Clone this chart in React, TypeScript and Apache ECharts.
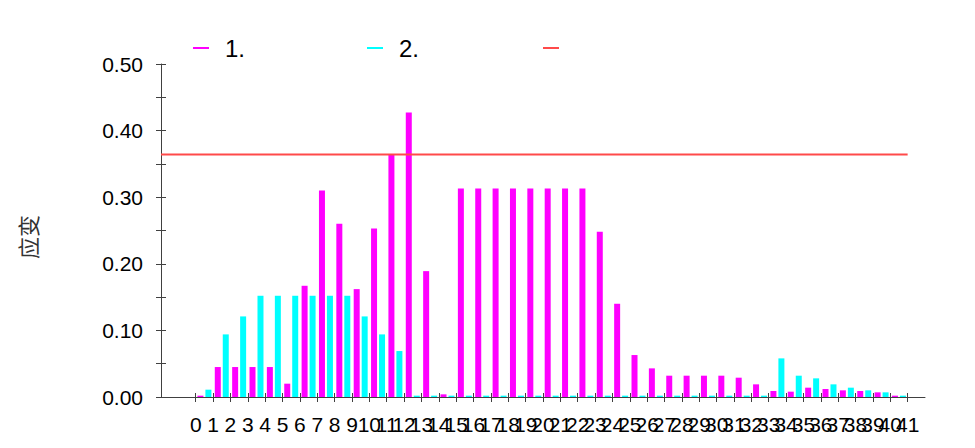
import React, { useEffect, useRef } from 'react';
import * as echarts from 'echarts';

// ---- data ----
const tickLabels = [
  '0', '1', '2', '3', '4', '5', '6', '7', '8', '9', '10', '11', '12', '13', '14', '15', '16', '17', '18', '19', '20',
  '21', '22', '23', '24', '25', '26', '27', '28', '29', '30', '31', '32', '33', '34', '35', '36', '37', '38', '39', '40', '41',
];

const seriesOneName = '1.';
const seriesTwoName = '2.';
const limitName = ' ';

const seriesOne = [
  0.002, 0.045, 0.045, 0.045, 0.045, 0.02, 0.167, 0.31, 0.26, 0.162, 0.253, 0.364, 0.427, 0.189, 0.004,
  0.313, 0.313, 0.313, 0.313, 0.313, 0.313, 0.313, 0.313, 0.248, 0.14, 0.063, 0.043, 0.032, 0.032, 0.032,
  0.032, 0.029, 0.019, 0.009, 0.008, 0.014, 0.012, 0.01, 0.009, 0.007, 0.002,
];

const seriesTwo = [
  0.011, 0.094, 0.121, 0.152, 0.152, 0.152, 0.152, 0.152, 0.152, 0.121, 0.094, 0.069, 0.002, 0.002, 0.002,
  0.002, 0.002, 0.002, 0.002, 0.002, 0.002, 0.002, 0.002, 0.002, 0.002, 0.002, 0.002, 0.002, 0.002, 0.002,
  0.002, 0.002, 0.002, 0.058, 0.032, 0.028, 0.019, 0.014, 0.01, 0.007, 0.002,
];

const limitValue = 0.364;

const yMin = 0;
const yMax = 0.5;
const yTickStep = 0.05;

const FONT = '"Liberation Sans", Arial, sans-serif';
const AXIS_COLOR = '#404040';

export default function App() {
  const ref = useRef<HTMLDivElement>(null);

  useEffect(() => {
    if (!ref.current) return;
    const chart = echarts.init(ref.current, null, { renderer: 'svg' });

    // band axis for bars: two empty bands on the left, one band per tick label
    const barAxisData = ['L2', 'L1', ...tickLabels];
    const barData1 = ['-', '-', ...seriesOne];
    const barData2 = ['-', '-', ...seriesTwo];

    // point axis for tick labels (ticks on band boundaries)
    const labelAxisData = ['L2', 'L1', ...tickLabels, 'R1'];
    const isLabel = (v: string) => tickLabels.indexOf(v) >= 0;
    const lineData = labelAxisData.map((v) => (v === 'R1' ? '-' : limitValue));

    const legendBase = {
      top: 31,
      itemWidth: 16,
      itemHeight: 2,
      icon: 'rect',
      selectedMode: false,
      textStyle: { fontSize: 24, color: '#000', fontFamily: FONT, padding: [0, 0, 0, 11] },
    };

    const option: any = {
      animation: false,
      backgroundColor: '#fff',
      legend: [
        { ...legendBase, left: 188, data: [seriesOneName] },
        { ...legendBase, left: 362, data: [seriesTwoName] },
        { ...legendBase, left: 538, data: [limitName] },
      ],
      grid: { left: 161, top: 64, width: 764, height: 333, containLabel: false },
      graphic: [
        {
          type: 'text',
          x: 27,
          y: 237,
          rotation: Math.PI / 2,
          style: {
            text: '应变',
            fontSize: 22,
            fontFamily: '"Noto Sans CJK SC", sans-serif',
            fill: '#333',
            textAlign: 'center',
            textVerticalAlign: 'middle',
            align: 'center',
            verticalAlign: 'middle',
          },
        },
      ],
      xAxis: [
        {
          type: 'category',
          data: barAxisData,
          boundaryGap: true,
          position: 'bottom',
          show: false,
        },
        {
          type: 'category',
          data: labelAxisData,
          boundaryGap: false,
          position: 'bottom',
          axisLine: { show: true, onZero: false, lineStyle: { color: AXIS_COLOR, width: 1 } },
          axisTick: {
            show: true,
            length: 5,
            interval: (_i: number, v: string) => isLabel(v),
            lineStyle: { color: AXIS_COLOR, width: 1 },
          },
          axisLabel: {
            interval: 0,
            formatter: (v: string) => (isLabel(v) ? v : ''),
            margin: 17,
            fontSize: 21,
            color: '#000',
            fontFamily: FONT,
          },
          splitLine: { show: false },
        },
        {
          type: 'category',
          data: labelAxisData,
          boundaryGap: false,
          position: 'bottom',
          axisLine: { show: false, onZero: false },
          axisTick: {
            show: true,
            inside: true,
            length: 4,
            interval: (_i: number, v: string) => isLabel(v),
            lineStyle: { color: AXIS_COLOR, width: 1 },
          },
          axisLabel: { show: false },
          splitLine: { show: false },
        },
      ],
      yAxis: [
        {
          type: 'value',
          min: yMin,
          max: yMax,
          interval: yTickStep,
          position: 'left',
          axisLine: { show: true, onZero: false, lineStyle: { color: AXIS_COLOR, width: 1 } },
          axisTick: { show: true, length: 5, lineStyle: { color: AXIS_COLOR, width: 1 } },
          axisLabel: {
            formatter: (v: number) => (Math.round(v * 100) % 10 === 0 ? v.toFixed(2) : ''),
            margin: 18,
            fontSize: 21,
            color: '#000',
            fontFamily: FONT,
          },
          splitLine: { show: false },
        },
        {
          type: 'value',
          min: yMin,
          max: yMax,
          interval: yTickStep,
          position: 'left',
          axisLine: { show: false, onZero: false },
          axisTick: { show: true, inside: true, length: 5, lineStyle: { color: AXIS_COLOR, width: 1 } },
          axisLabel: { show: false },
          splitLine: { show: false },
        },
      ],
      series: [
        {
          name: seriesOneName,
          type: 'bar',
          xAxisIndex: 0,
          yAxisIndex: 0,
          data: barData1,
          barWidth: 6,
          barGap: '33%',
          itemStyle: { color: '#ff00ff' },
        },
        {
          name: seriesTwoName,
          type: 'bar',
          xAxisIndex: 0,
          yAxisIndex: 0,
          data: barData2,
          barWidth: 6,
          barGap: '33%',
          itemStyle: { color: '#00ffff' },
        },
        {
          name: limitName,
          type: 'line',
          xAxisIndex: 1,
          yAxisIndex: 0,
          data: lineData,
          showSymbol: false,
          symbol: 'none',
          lineStyle: { color: '#ff4a4a', width: 2 },
          itemStyle: { color: '#ff4a4a' },
          z: 3,
        },
      ],
    };

    chart.setOption(option);
    return () => chart.dispose();
  }, []);

  return (
    <div
      ref={ref}
      style={{ position: 'fixed', left: 0, top: 0, width: 975, height: 448, background: '#fff' }}
    />
  );
}
